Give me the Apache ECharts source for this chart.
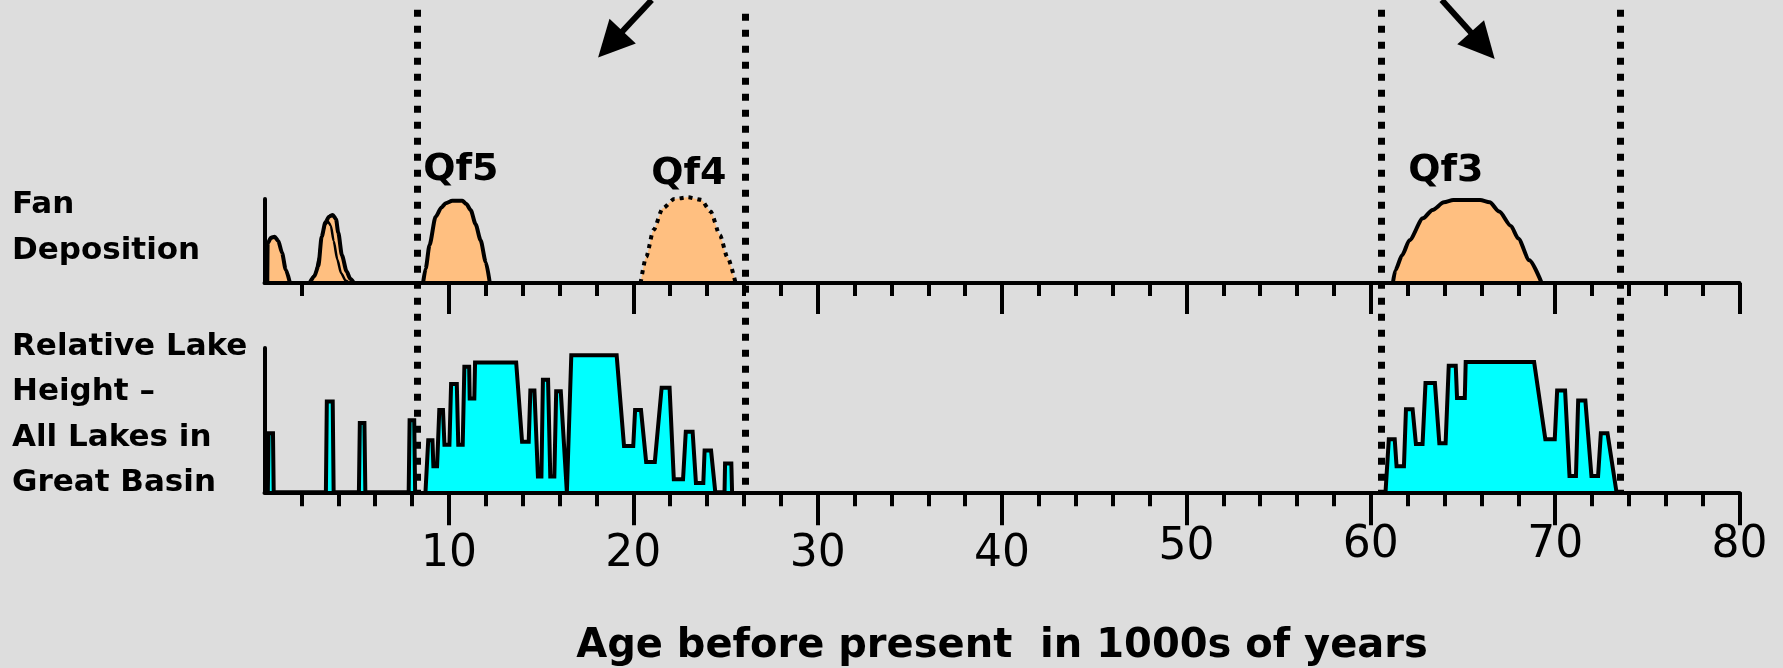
<!DOCTYPE html>
<html><head><meta charset="utf-8">
<script src="https://cdn.jsdelivr.net/npm/echarts@6/dist/echarts.min.js"></script>
<style>html,body{margin:0;padding:0;background:#DDDDDD;}#c{width:1783px;height:668px;}</style>
</head><body><div id="c"></div>
<script>
// ---- data (ages in thousands of years, heights are relative 0-100) ----
const majorAgeTicks = [10, 20, 30, 40, 50, 60, 70, 80];
const fanMinorTicks = [2, 12, 14, 16, 18, 22, 24, 26, 28, 32, 34, 36, 38, 42, 44, 46, 48, 52, 54, 56, 58, 62, 64, 66, 68, 72, 74, 76, 78];
const lakeMinorTicks = [2, 4, 6, 8, 12, 14, 16, 18, 22, 24, 26, 28, 32, 34, 36, 38, 42, 44, 46, 48, 52, 54, 56, 58, 62, 64, 66, 68, 72, 74, 76, 78];

const fanHolocene1 = [[0.15,0],[0.17,47],[0.35,54],[0.55,55],[0.75,50],[0.95,36],[1.15,16],[1.38,0]];
const fanHolocene2a = [[2.45,0],[2.75,10],[2.95,30],[3.1,55],[3.3,70],[3.45,73],[3.6,68],[3.75,50],[3.95,28],[4.15,12],[4.4,3],[4.6,0]];
const fanHolocene2b = [[2.45,0],[2.7,8],[2.92,20],[3.1,55],[3.3,72],[3.5,79],[3.7,81],[3.88,76],[4.0,60],[4.2,33],[4.45,14],[4.65,5],[4.85,0]];
const fanQf5 = [[8.6,0],[8.74,17],[8.95,45],[9.28,79],[9.6,90],[9.83,95],[10.19,98],[10.73,98],[10.95,94],[11.18,87],[11.45,70],[11.72,51],[12.0,25],[12.22,0]];
const fanQf4 = [[20.4,0],[20.7,31],[21.1,63],[21.6,89],[22.23,100],[22.95,102],[23.68,99],[24.2,85],[24.7,57],[25.1,31],[25.55,0]];
const fanQf3 = [[61.2,0],[61.33,15],[61.7,33],[62.1,51],[62.83,77],[63.35,87],[63.97,96],[64.48,98.8],[65.93,98.8],[66.45,96],[66.97,85],[67.6,68],[68.0,53],[68.6,27],[69.27,0]];

const lakeSpikes = [[0.18,0],[0.22,41],[0.46,41],[0.5,0],[3.33,0],[3.38,63],[3.7,63],[3.75,0],[5.12,0],[5.17,48],[5.42,48],[5.47,0],[7.82,0],[7.87,50],[8.12,50],[8.17,0]];
const lakeLatePleistocene = [[8.73,0],[8.88,36],[9.11,36],[9.16,18],[9.36,18],[9.48,57],[9.68,57],[9.76,33],[10.03,33],[10.12,75],[10.43,75],[10.51,33],[10.75,33],[10.84,87],[11.1,87],[11.13,65],[11.38,65],[11.42,90],[13.65,90],[13.97,35],[14.33,35],[14.42,70.5],[14.64,70.5],[14.83,11],[15.02,11],[15.1,78],[15.38,78],[15.5,11],[15.72,11],[15.82,70],[16.07,70],[16.4,0],[16.64,95],[19.1,95],[19.5,32],[20.0,32],[20.1,57],[20.42,57],[20.7,21],[21.17,21],[21.54,72.5],[21.97,72.5],[22.2,9],[22.7,9],[22.85,42],[23.22,42],[23.4,6.5],[23.8,6.5],[23.87,29],[24.22,29],[24.45,0],[24.95,0],[24.98,20],[25.32,20],[25.36,0]];
const lakeQf3Era = [[60.8,0],[60.98,36.8],[61.3,36.8],[61.4,18],[61.8,18],[61.91,57.6],[62.27,57.6],[62.45,33.5],[62.81,33.5],[62.97,75.7],[63.48,75.7],[63.72,34],[64.06,34],[64.23,87.7],[64.61,87.7],[64.68,65.3],[65.1,65.3],[65.15,90.3],[68.86,90.3],[69.47,36.8],[69.98,36.8],[70.11,70.6],[70.54,70.6],[70.78,11.3],[71.13,11.3],[71.25,63.6],[71.64,63.6],[71.97,11.3],[72.33,11.3],[72.48,41],[72.84,41],[73.33,0]];

const qfNames = ['Qf5', 'Qf4', 'Qf3'];
const qfAnchors = [[8.58,134.5],[20.95,129.8],[62.0,133.3]];
const dividerAges = [8.28, 26.05, 60.58, 73.55];
const dividerTops = [98, 97.2, 98, 98];
const arrowPaths = [[[21.0,100],[18.76,91.0]], [[63.85,100],[66.07,90.74]]];

const axisTitle = 'Age before present  in 1000s of years';
const fanTitle = 'Fan\nDeposition';
const lakeTitle = 'Relative Lake\nHeight \u2013\nAll Lakes in\nGreat Basin';

// ---- chart ----
const BLACK = '#000';
const FAN = '#FFBF80';
const LAKE = '#00FFFF';
const chart = echarts.init(document.getElementById('c'), null, {renderer: 'canvas'});

const gridBase = {left: 264.5, width: 1475, containLabel: false};
function valueX(gridIndex, extra) {
  return Object.assign({type: 'value', gridIndex, min: 0, max: 80, position: 'bottom',
    axisLine: {show: false}, axisTick: {show: false}, axisLabel: {show: false}, splitLine: {show: false}}, extra);
}
const tickFont = {fontFamily: 'DejaVu Sans', fontSize: 44, color: BLACK};
const labelRich = {
  lo: Object.assign({}, tickFont),
  mid: Object.assign({padding: [0, 0, 14, 0]}, tickFont),
  hi: Object.assign({padding: [0, 0, 18, 0]}, tickFont)
};

function fanSeries(data, dotted, width) {
  return {type: 'line', xAxisIndex: 0, yAxisIndex: 0, data, symbol: 'none', clip: false,
    smooth: 0.25, smoothMonotone: 'x', z: 2,
    lineStyle: {color: BLACK, width: width || 4, type: dotted ? [4, 5] : 'solid'},
    areaStyle: {color: FAN, opacity: 1}};
}
function lakeSeries(data) {
  return {type: 'line', xAxisIndex: 2, yAxisIndex: 1, data, symbol: 'none', clip: false, z: 2,
    lineStyle: {color: BLACK, width: 4, join: 'miter', miterLimit: 3},
    areaStyle: {color: LAKE, opacity: 1}};
}

const option = {
  backgroundColor: '#DDDDDD',
  animation: false,
  title: [
    {text: fanTitle, left: 12, top: 182, padding: 0,
     textStyle: {fontFamily: 'DejaVu Sans', fontWeight: 'bold', fontSize: 31, lineHeight: 46, color: BLACK}},
    {text: lakeTitle, left: 12, top: 324, padding: 0,
     textStyle: {fontFamily: 'DejaVu Sans', fontWeight: 'bold', fontSize: 31, lineHeight: 45.5, color: BLACK}}
  ],
  grid: [
    Object.assign({top: 199, height: 84}, gridBase),
    Object.assign({top: 348, height: 144.3}, gridBase),
    Object.assign({top: 0, height: 492.3}, gridBase)
  ],
  xAxis: [
    valueX(0, {z: 3, axisLine: {show: true, onZero: false, lineStyle: {color: BLACK, width: 4}},
      axisTick: {show: true, customValues: majorAgeTicks, length: 31, lineStyle: {color: BLACK, width: 4}}}),
    valueX(0, {axisTick: {show: true, customValues: fanMinorTicks, length: 13, lineStyle: {color: BLACK, width: 4}}}),
    valueX(1, {z: 3, axisLine: {show: true, onZero: false, lineStyle: {color: BLACK, width: 4}},
      axisTick: {show: true, customValues: majorAgeTicks, length: 33, lineStyle: {color: BLACK, width: 4}},
      axisLabel: {show: true, customValues: majorAgeTicks, margin: 62, verticalAlign: 'middle',
        formatter: function (v) { const s = String(v); return v >= 60 ? '{hi|' + s + '}' : (v === 50 ? '{mid|' + s + '}' : '{lo|' + s + '}'); },
        rich: labelRich},
      name: axisTitle, nameLocation: 'middle', nameGap: 134,
      nameTextStyle: {fontFamily: 'DejaVu Sans', fontWeight: 'bold', fontSize: 40, color: BLACK}}),
    valueX(1, {axisTick: {show: true, customValues: lakeMinorTicks, length: 14, lineStyle: {color: BLACK, width: 4}}}),
    valueX(2, {})
  ],
  yAxis: [
    {type: 'value', gridIndex: 0, min: 0, max: 100, axisLine: {show: true, lineStyle: {color: BLACK, width: 4}},
     axisTick: {show: false}, axisLabel: {show: false}, splitLine: {show: false}},
    {type: 'value', gridIndex: 1, min: 0, max: 100, axisLine: {show: true, lineStyle: {color: BLACK, width: 4}},
     axisTick: {show: false}, axisLabel: {show: false}, splitLine: {show: false}},
    {type: 'value', gridIndex: 2, min: 0, max: 100, axisLine: {show: false},
     axisTick: {show: false}, axisLabel: {show: false}, splitLine: {show: false}}
  ],
  series: [
    fanSeries(fanHolocene1),
    fanSeries(fanHolocene2a, false, 2.5),
    fanSeries(fanHolocene2b),
    fanSeries(fanQf5),
    fanSeries(fanQf4, true, 4),
    fanSeries(fanQf3),
    {type: 'scatter', xAxisIndex: 0, yAxisIndex: 0, clip: false, symbolSize: 1, z: 5,
     itemStyle: {color: 'rgba(0,0,0,0)', opacity: 1},
     data: qfAnchors.map((p, i) => ({name: qfNames[i], value: p})),
     label: {show: true, position: 'right', distance: 0, formatter: '{b}', opacity: 1,
       fontFamily: 'DejaVu Sans', fontWeight: 'bold', fontSize: 38, color: BLACK}},
    lakeSeries(lakeSpikes),
    lakeSeries(lakeLatePleistocene),
    lakeSeries(lakeQf3Era),
    {type: 'lines', coordinateSystem: 'cartesian2d', xAxisIndex: 4, yAxisIndex: 2, clip: false, z: 10,
     symbol: 'none',
     lineStyle: {color: BLACK, width: 7, type: [7, 9], opacity: 1},
     data: dividerAges.map((a, i) => ({coords: [[a, dividerTops[i]], [a, 0]]}))},
    {type: 'lines', coordinateSystem: 'cartesian2d', xAxisIndex: 4, yAxisIndex: 2, clip: false, z: 10,
     symbol: ['none', 'triangle'], symbolSize: 36,
     lineStyle: {color: BLACK, width: 6, type: 'solid', opacity: 1},
     itemStyle: {color: BLACK},
     data: arrowPaths.map(p => ({coords: p}))}
  ]
};
chart.setOption(option);
</script></body></html>
